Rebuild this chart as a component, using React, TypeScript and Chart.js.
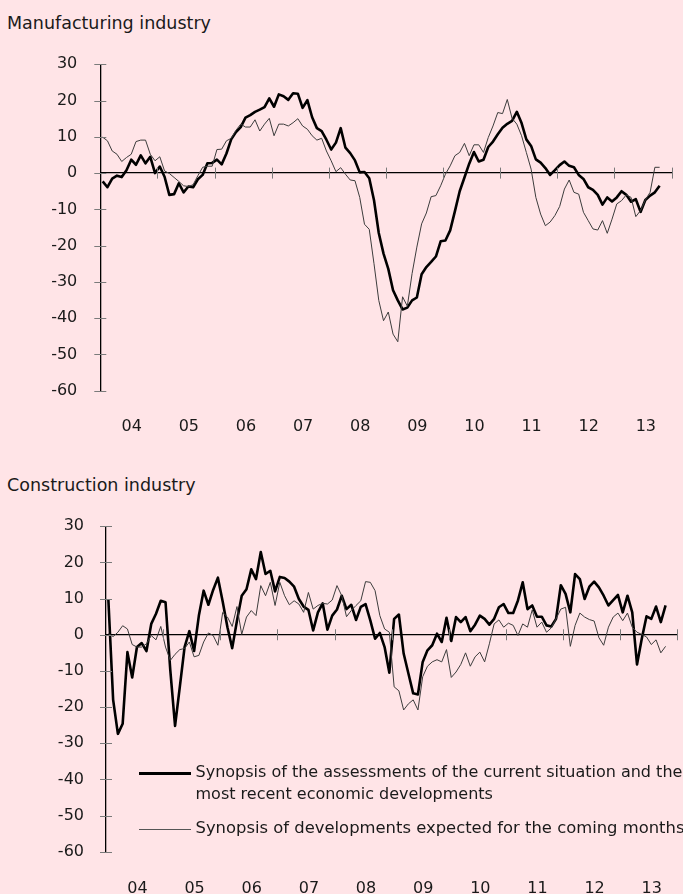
import { useEffect, useRef } from "react";
import { Chart, registerables } from "chart.js";

Chart.register(...registerables);

const BG = "#FFE4E7";
const FONT = "DejaVu Sans";

const YEAR_LABELS = ["04", "05", "06", "07", "08", "09", "10", "11", "12", "13"];
const Y_TICKS = [30, 20, 10, 0, -10, -20, -30, -40, -50, -60];
const MONTH_TICKS = [0, 12, 24, 36, 48, 60, 72, 84, 96, 108, 120];

// Manufacturing industry (monthly, Jan 2004 - Oct 2013)
const MANUF_CURRENT = [
  -2.3, -3.9, -1.5, -0.7, -1.1, 0.8, 3.7, 2.3, 4.9, 2.7, 4.5, 0.0,
  1.8, -1.0, -6.0, -5.8, -2.8, -5.3, -3.7, -3.9, -1.7, -0.5, 2.7, 2.8,
  3.7, 2.4, 5.4, 9.3, 11.3, 12.7, 15.3, 16.0, 16.9, 17.5, 18.2, 20.6,
  18.3, 21.7, 21.2, 20.2, 22.0, 21.9, 18.0, 20.1, 15.4, 12.4, 11.6, 9.2,
  6.5, 8.4, 12.4, 7.0, 5.5, 3.5, 0.2, 0.3, -1.4, -7.5, -16.5, -22.2,
  -26.4, -32.3, -35.1, -37.6, -37.1, -35.1, -34.3, -27.9, -25.9, -24.5, -23.0, -18.8,
  -18.6, -15.8, -10.5, -5.0, -1.2, 2.6, 5.8, 3.2, 3.7, 7.2, 8.7, 10.7,
  12.5, 13.6, 14.4, 16.9, 13.8, 9.3, 7.5, 3.8, 2.9, 1.4, -0.5, 0.8,
  2.2, 3.2, 2.0, 1.6, -0.5, -1.6, -3.9, -4.6, -6.0, -8.7, -6.7, -7.8,
  -6.7, -5.0, -6.0, -7.9, -7.2, -10.7, -7.4, -6.2, -5.3, -3.5,
];
const MANUF_EXPECTED = [
  9.9, 8.9, 6.1, 5.2, 3.2, 4.3, 5.2, 8.7, 9.1, 9.1, 5.2, 3.4,
  4.5, 0.6, -0.1, -1.2, -2.3, -3.5, -3.7, -3.2, -0.7, 1.6, 1.9, 1.9,
  6.5, 6.6, 8.9, 9.6, 11.8, 13.5, 12.7, 12.7, 14.7, 11.6, 13.5, 15.1,
  10.3, 13.5, 13.5, 13.0, 13.9, 15.0, 13.0, 12.1, 10.3, 9.1, 9.6, 6.1,
  3.4, 0.4, 1.5, -0.3, -1.9, -2.1, -6.7, -14.1, -15.5, -25.0, -35.1, -40.7,
  -38.3, -44.4, -46.5, -34.1, -36.7, -27.7, -20.4, -14.0, -11.0, -6.5, -6.2, -3.5,
  -0.3, 2.0, 4.8, 5.7, 8.2, 4.8, 7.8, 7.8, 5.7, 9.8, 13.0, 16.7,
  16.4, 20.3, 15.1, 13.5, 10.3, 5.7, 1.1, -6.7, -11.3, -14.5, -13.5, -11.7,
  -9.2, -4.4, -1.9, -5.3, -5.8, -10.8, -13.1, -15.4, -15.7, -13.1, -16.6, -12.7,
  -8.5, -7.6, -6.0, -6.7, -12.0, -10.3, -7.4, -5.3, 1.6, 1.6,
];

// Construction industry (monthly, Jan 2004 - Oct 2013)
const CONSTR_CURRENT = [
  9.6, -18.0, -27.4, -24.6, -4.8, -11.8, -3.4, -2.3, -4.5, 3.0, 5.8, 9.4,
  9.0, -9.8, -25.2, -14.4, -3.4, 1.0, -4.5, 5.3, 12.2, 8.3, 12.4, 15.8,
  9.2, 2.1, -3.7, 3.9, 10.8, 12.6, 18.1, 15.4, 22.9, 16.8, 17.7, 12.0,
  16.0, 15.7, 14.7, 13.3, 9.9, 7.8, 6.9, 1.2, 6.2, 8.7, 1.4, 5.3,
  7.0, 10.8, 7.1, 8.3, 4.1, 7.7, 8.5, 4.0, -1.1, 0.5, -3.4, -10.5,
  4.4, 5.6, -5.2, -10.7, -16.2, -16.5, -7.5, -4.3, -2.9, 0.3, -2.0, 4.7,
  -1.7, 4.9, 3.5, 4.9, 1.0, 2.8, 5.3, 4.4, 2.8, 4.4, 7.6, 8.5,
  6.0, 6.0, 9.5, 14.5, 7.1, 8.1, 5.0, 5.0, 2.6, 2.3, 4.4, 13.7,
  11.3, 6.2, 16.8, 15.4, 9.9, 13.3, 14.7, 13.1, 10.8, 8.1, 9.6, 11.0,
  6.2, 10.8, 6.2, -8.2, -1.1, 5.1, 4.4, 7.8, 3.5, 8.1,
];
const CONSTR_EXPECTED = [
  0.3, -0.5, 0.7, 2.5, 1.6, -2.7, -3.4, -3.4, -2.5, -0.2, -1.4, 2.3,
  -3.4, -7.1, -5.4, -4.1, -3.8, -2.0, -6.1, -5.7, -2.0, 0.5, -0.2, -2.9,
  6.2, 4.9, 2.3, 7.8, 0.1, 4.9, 6.7, 5.3, 13.6, 10.8, 14.5, 8.1,
  14.5, 10.8, 8.3, 9.4, 8.5, 6.2, 11.7, 7.1, 8.1, 8.7, 8.5, 9.6,
  13.6, 10.8, 5.0, 6.7, 8.1, 9.4, 14.7, 14.5, 12.2, 5.3, 1.6, 0.7,
  -14.4, -15.5, -20.8, -19.1, -18.0, -20.8, -11.6, -8.7, -7.5, -6.9, -7.5, -4.1,
  -11.8, -10.3, -8.2, -5.0, -8.7, -6.1, -4.8, -7.5, -2.5, 3.0, 4.1, 2.1,
  3.2, 2.6, -0.2, 3.0, 2.1, 6.9, 2.1, 3.5, 0.7, 1.9, 4.4, 7.1,
  7.6, -3.2, 2.6, 6.0, 4.9, 4.2, 3.8, -0.8, -2.9, 2.1, 4.9, 6.0,
  3.9, 6.0, 2.1, 0.7, 0.1, -0.6, -2.7, -1.4, -5.0, -3.2,
];

const TICK_COLOR = "#7a7a7a";

// Tick marks that cross the axes (drawn at positions given by the chart's own scales)
const crossTicks = {
  id: "crossTicks",
  afterDraw(chart: any) {
    const { ctx } = chart;
    const ys = chart.scales.y;
    const xs = chart.scales.x;
    const axisX = ys.right;
    const zeroY = ys.getPixelForValue(0);
    ctx.save();
    ctx.strokeStyle = TICK_COLOR;
    ctx.lineWidth = 1;
    ctx.beginPath();
    for (const v of Y_TICKS) {
      const py = Math.round(ys.getPixelForValue(v)) + 0.5;
      ctx.moveTo(axisX - 6, py);
      ctx.lineTo(axisX + 6, py);
    }
    for (const m of MONTH_TICKS) {
      if (m === 0) continue;
      const px = Math.round(xs.getPixelForValue(m)) + 0.5;
      ctx.moveTo(px, zeroY - 5.5);
      ctx.lineTo(px, zeroY + 5.5);
    }
    ctx.stroke();
    ctx.restore();
  },
};

type Layout = {
  leftW: number;
  padTop: number;
  padRight: number;
  labelH: number;
  labelPad: number;
  yLabelGap: number;
};

function buildChart(
  canvas: HTMLCanvasElement,
  current: number[],
  expected: number[],
  L: Layout
) {
  const toPts = (arr: number[]) => arr.map((v, i) => ({ x: i + 0.5, y: v }));
  return new Chart(canvas, {
    type: "line",
    data: {
      datasets: [
        {
          data: toPts(expected),
          borderColor: "#3c3c3c",
          borderWidth: 1,
          pointRadius: 0,
          tension: 0,
          xAxisID: "x",
          yAxisID: "y",
          borderJoinStyle: "round",
        },
        {
          data: toPts(current),
          borderColor: "#000000",
          borderWidth: 2.6,
          pointRadius: 0,
          tension: 0,
          xAxisID: "x",
          yAxisID: "y",
          borderJoinStyle: "round",
        },
      ],
    },
    options: {
      responsive: false,
      maintainAspectRatio: false,
      animation: false,
      layout: { padding: { top: L.padTop, right: L.padRight, bottom: 0, left: 0 } },
      plugins: { legend: { display: false }, tooltip: { enabled: false } },
      scales: {
        y: {
          type: "linear",
          position: "left",
          min: -60,
          max: 30,
          afterBuildTicks: (s: any) => {
            s.ticks = Y_TICKS.map((v) => ({ value: v }));
          },
          afterFit: (s: any) => {
            s.width = L.leftW;
          },
          ticks: {
            font: { family: FONT, size: 16 },
            color: "#1a1a1a",
            padding: 0,
            callback: (v: any) => String(v),
          },
          grid: {
            drawOnChartArea: false,
            tickLength: L.yLabelGap,
            tickColor: "rgba(0,0,0,0)",
          },
          border: { color: "#000", width: 1.3 },
        },
        x: {
          type: "linear",
          position: { y: 0 },
          min: 0,
          max: 120,
          afterBuildTicks: (s: any) => {
            s.ticks = MONTH_TICKS.map((v) => ({ value: v }));
          },
          ticks: { display: false },
          grid: { drawOnChartArea: false, drawTicks: false },
          border: { color: "#000", width: 1.3 },
        },
        xl: {
          type: "linear",
          position: "bottom",
          min: 0,
          max: 120,
          afterBuildTicks: (s: any) => {
            s.ticks = YEAR_LABELS.map((_, k) => ({ value: 12 * k + 6.6 }));
          },
          afterFit: (s: any) => {
            s.height = L.labelH;
          },
          ticks: {
            font: { family: FONT, size: 16 },
            color: "#1a1a1a",
            padding: L.labelPad,
            maxRotation: 0,
            autoSkip: false,
            callback: (_v: any, idx: number) => YEAR_LABELS[idx],
          },
          grid: { display: false, drawTicks: false },
          border: { display: false },
        },
      },
    } as any,
    plugins: [crossTicks as any],
  });
}

export default function App() {
  const topRef = useRef<HTMLCanvasElement>(null);
  const botRef = useRef<HTMLCanvasElement>(null);

  useEffect(() => {
    document.body.style.margin = "0";
    document.body.style.background = BG;
    document.body.style.overflow = "hidden";
    const c1 = buildChart(topRef.current!, MANUF_CURRENT, MANUF_EXPECTED, {
      leftW: 100.3,
      padTop: 24.3,
      padRight: 2.3,
      labelH: 410 - 350.7,
      labelPad: 26.9,
      yLabelGap: 23,
    });
    const c2 = buildChart(botRef.current!, CONSTR_CURRENT, CONSTR_EXPECTED, {
      leftW: 106,
      padTop: 26.3,
      padRight: 3.3,
      labelH: 394 - 351.7,
      labelPad: 27.9,
      yLabelGap: 22,
    });
    return () => {
      c1.destroy();
      c2.destroy();
    };
  }, []);

  const textStyle: any = {
    position: "absolute",
    whiteSpace: "nowrap",
    color: "#1a1a1a",
    fontFamily: FONT,
  };

  return (
    <div
      style={{
        position: "relative",
        width: 683,
        height: 894,
        background: BG,
        overflow: "hidden",
        fontFamily: FONT,
      }}
    >
      <div style={{ ...textStyle, left: 7, top: 13, fontSize: 17.5, lineHeight: "20px" }}>
        Manufacturing industry
      </div>
      <canvas
        ref={topRef}
        width={683}
        height={410}
        style={{ position: "absolute", left: 0, top: 40, width: 683, height: 410 }}
      />
      <div style={{ ...textStyle, left: 7, top: 475, fontSize: 17.5, lineHeight: "20px" }}>
        Construction industry
      </div>
      <canvas
        ref={botRef}
        width={690}
        height={394}
        style={{ position: "absolute", left: 0, top: 500, width: 690, height: 394 }}
      />
      <div
        style={{
          position: "absolute",
          left: 139,
          top: 772,
          width: 52,
          height: 2.6,
          background: "#000",
        }}
      />
      <div style={{ ...textStyle, left: 195.5, top: 761, fontSize: 16, lineHeight: "22px" }}>
        Synopsis of the assessments of the current situation and the
        <br />
        most recent economic developments
      </div>
      <div
        style={{
          position: "absolute",
          left: 139,
          top: 828.5,
          width: 52,
          height: 1,
          background: "#555",
        }}
      />
      <div style={{ ...textStyle, left: 195.5, top: 817, fontSize: 16.4, lineHeight: "22px" }}>
        Synopsis of developments expected for the coming months
      </div>
    </div>
  );
}
